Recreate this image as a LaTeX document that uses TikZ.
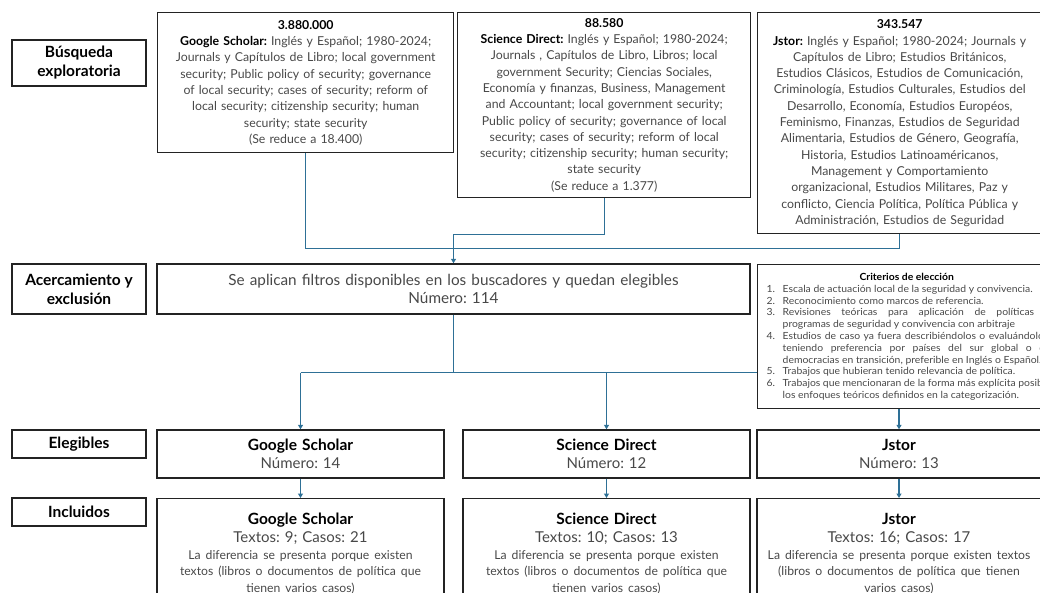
\documentclass[tikz,border=0pt]{standalone}
\usepackage{fontspec}
\setmainfont{Lato}
\newfontfamily\critfont[FakeStretch=1.06]{Lato}
\frenchspacing
\usetikzlibrary{arrows.meta,positioning}
\definecolor{linkblue}{RGB}{46,112,150}
\definecolor{bodygray}{RGB}{72,72,72}
\definecolor{edgegray}{RGB}{35,35,35}
\newcommand{\srchead}[1]{\textbf{\textcolor{black}{#1}}}
\newcommand{\dbname}[1]{{\fontsize{15.5}{18}\selectfont\srchead{#1}}}
\newcommand{\critem}[2]{\hangindent=20pt\hangafter=1\noindent\makebox[20pt][l]{\hspace*{4pt}#1}#2\par}
\tikzset{
  stagebox/.style={draw=edgegray, line width=1.4pt, minimum width=134pt, inner sep=2pt,
    align=center, font=\bfseries\fontsize{15.5}{19}\selectfont},
  srcbox/.style={draw=edgegray, line width=1.4pt, inner xsep=3pt, inner ysep=2pt, anchor=north west,
    align=center, text=bodygray, font=\fontsize{12.3}{16.3}\selectfont},
  countbox/.style={draw=edgegray, line width=1.4pt, inner xsep=3pt, inner ysep=2pt,
    align=center, text=bodygray, font=\fontsize{15}{18}\selectfont},
  link/.style={draw=linkblue, line width=1.3pt},
  arrowlink/.style={link, -{Triangle[length=4.5pt,width=5pt]}}
}
\begin{document}
\begin{tikzpicture}[x=1pt,y=-1pt]
\useasboundingbox (0,0) rectangle (1040,593);
\clip (0,0) rectangle (1040,593);

\node[stagebox, minimum height=46pt] (stSearch) at (79,63) {Búsqueda\\exploratoria};
\node[stagebox, minimum height=50pt] (stFilter) at (79,289) {Acercamiento y\\exclusión};
\node[stagebox, minimum height=28pt] (stElig) at (79,444) {Elegibles};
\node[stagebox, minimum height=28pt] (stIncl) at (79,512) {Incluidos};

\node[srcbox, text width=290pt, minimum height=140pt] (gsTop) at (157,12) {\srchead{3.880.000}\\
  \srchead{Google Scholar:} Inglés y Español; 1980-2024;\\
  Journals y Capítulos de Libro; local government\\
  security; Public policy of security; governance\\
  of local security; cases of security; reform of\\
  local security; citizenship security; human\\
  security; state security\\
  (Se reduce a 18.400)};
\node[srcbox, text width=287pt, minimum height=185pt] (sdTop) at (457,12) {\srchead{88.580}\\
  \srchead{Science Direct:} Inglés y Español; 1980-2024;\\
  Journals , Capítulos de Libro, Libros; local\\
  government Security; Ciencias Sociales,\\
  Economía y finanzas, Business, Management\\
  and Accountant; local government security;\\
  Public policy of security; governance of local\\
  security; cases of security; reform of local\\
  security; citizenship security; human security;\\
  state security\\
  (Se reduce a 1.377)};
\node[srcbox, text width=278pt, minimum height=221pt] (jsTop) at (757,12) {\srchead{343.547}\\
  \srchead{Jstor:} Inglés y Español; 1980-2024; Journals y\\
  Capítulos de Libro; Estudios Británicos,\\
  Estudios Clásicos, Estudios de Comunicación,\\
  Criminología, Estudios Culturales, Estudios del\\
  Desarrollo, Economía, Estudios Européos,\\
  Feminismo, Finanzas, Estudios de Seguridad\\
  Alimentaria, Estudios de Género, Geografía,\\
  Historia, Estudios Latinoaméricanos,\\
  Management y Comportamiento\\
  organizacional, Estudios Militares, Paz y\\
  conflicto, Ciencia Política, Política Pública y\\
  Administración, Estudios de Seguridad};

\node[countbox, text width=587pt, minimum height=50pt, font=\fontsize{15.3}{17.5}\selectfont] (filt) at (453.5,289)
  {Se aplican filtros disponibles en los buscadores y quedan elegibles\\ Número: 114};
\node[draw=edgegray, line width=1.4pt, anchor=north west, text width=288pt, inner xsep=5pt, inner ysep=2pt,
  minimum height=144pt, align=justify, text=bodygray, font=\critfont\fontsize{9.8}{11.8}\selectfont,
  execute at begin node={\tolerance=9999\hyphenpenalty=10000}] (crit) at (757,264) {%
  {\centering\srchead{Criterios de elección}\par}
  \critem{1.}{Escala de actuación local de la seguridad y convivencia.}
  \critem{2.}{Reconocimiento como marcos de referencia.}
  \critem{3.}{Revisiones teóricas para aplicación de políticas o\linebreak programas de seguridad y convivencia con arbitraje}
  \critem{4.}{Estudios de caso ya fuera describiéndolos o evaluándolos,\linebreak teniendo preferencia por países del sur global o de\linebreak democracias en transición, preferible en Inglés o Español.}
  \critem{5.}{Trabajos que hubieran tenido relevancia de política.}
  \critem{6.}{Trabajos que mencionaran de la forma más explícita posible\linebreak los enfoques teóricos definidos en la categorización.}};

\node[countbox, text width=281pt, minimum height=48pt] (gsElig) at (300.5,454) {\dbname{Google Scholar}\\ Número: 14};
\node[countbox, text width=281pt, minimum height=48pt] (sdElig) at (606.5,454) {\dbname{Science Direct}\\ Número: 12};
\node[countbox, text width=278pt, minimum height=48pt] (jsElig) at (899,454) {\dbname{Jstor}\\ Número: 13};

\node[countbox, text width=281pt, anchor=north, inner ysep=4pt, minimum height=110pt] (gsIncl) at (300.5,498) {\dbname{Google Scholar}\\ Textos: 9; Casos: 21\par
  {\fontsize{12.2}{16.5}\selectfont La diferencia se presenta porque existen\\ textos (libros o documentos de política que\\ tienen varios casos)\par}};
\node[countbox, text width=281pt, anchor=north, inner ysep=4pt, minimum height=110pt] (sdIncl) at (606.5,498) {\dbname{Science Direct}\\ Textos: 10; Casos: 13\par
  {\fontsize{12.2}{16.5}\selectfont La diferencia se presenta porque existen\\ textos (libros o documentos de política que\\ tienen varios casos)\par}};
\node[countbox, text width=278pt, anchor=north, inner ysep=4pt, minimum height=110pt] (jsIncl) at (899,498) {\dbname{Jstor}\\ Textos: 16; Casos: 17\par
  {\fontsize{12.2}{16.5}\selectfont La diferencia se presenta porque existen textos\\ (libros o documentos de política que tienen\\ varios casos)\par}};

\draw[link] (gsTop.south) -- ++(0,95) -| (jsTop.south);
\draw[arrowlink] (sdTop.south) -- ++(0,36) -| (filt.north);
\draw[link] (filt.south) -- ++(0,58) coordinate (split);
\draw[link] (gsElig.north |- split) -- (crit.west |- split);
\draw[arrowlink] (gsElig.north |- split) -- (gsElig.north);
\draw[arrowlink] (sdElig.north |- split) -- (sdElig.north);
\draw[arrowlink] (jsElig.north |- crit.south) -- (jsElig.north);
\draw[arrowlink] (gsElig.south) -- (gsIncl.north);
\draw[arrowlink] (sdElig.south) -- (sdIncl.north);
\draw[arrowlink] (jsElig.south) -- (jsIncl.north);
\end{tikzpicture}
\end{document}
